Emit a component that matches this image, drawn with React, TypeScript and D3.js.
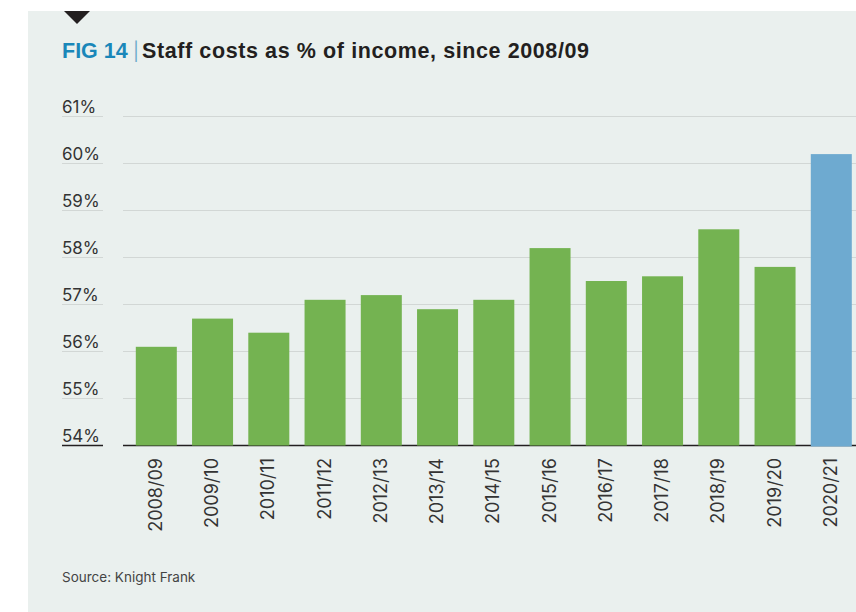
import React from "react";
import * as d3 from "d3";

const categories = ["2008/09","2009/10","2010/11","2011/12","2012/13","2013/14","2014/15","2015/16","2016/17","2017/18","2018/19","2019/20","2020/21"];
const values = [56.1, 56.7, 56.4, 57.1, 57.2, 56.9, 57.1, 58.2, 57.5, 57.6, 58.6, 57.8, 60.2];
const highlight = ["2020/21"];
const yTicks = [54, 55, 56, 57, 58, 59, 60, 61];

const W = 856, H = 612;
const FONT = "Inter, 'Liberation Sans', Arial, sans-serif";
const TITLE_FONT = "'Liberation Sans', Arial, sans-serif";

export default function App() {
  const x = d3.scaleBand<string>().domain(categories).range([123, 864.6]).paddingInner(0.271).paddingOuter(0.2276);
  const y = d3.scaleLinear().domain([54, 61]).range([445.5, 116.5]);
  return (
    <svg width={W} height={H} style={{ position: "absolute", left: 0, top: 0, display: "block" }} fontFamily={FONT}>
      <rect x={0} y={0} width={W} height={H} fill="#ffffff" />
      <rect x={28} y={11} width={W - 28} height={H - 11} fill="#eaf0ee" />
      <path d="M64,11 L90,11 L77,24 Z" fill="#231f20" />
      <text x={62} y={57.5} fontSize={21.5} fontWeight={700} fontFamily={TITLE_FONT}>
        <tspan fill="#1a87b9">FIG 14</tspan>
        <tspan fill="#6aa9c9" fontWeight={400} x={133} fontFamily={FONT} fontSize={18}>|</tspan>
        <tspan fill="#231f20" x={142} letterSpacing={0.6}>Staff costs as % of income, since 2008/09</tspan>
      </text>
      {yTicks.map((t) => (
        <g key={t}>
          <line x1={123} x2={W} y1={y(t)} y2={y(t)} stroke={t === 54 ? "#231f20" : "#d2d7d5"} strokeWidth={t === 54 ? 1.5 : 1.2} />
          <line x1={62} x2={103} y1={y(t)} y2={y(t)} stroke={t === 54 ? "#231f20" : "#d2d7d5"} strokeWidth={t === 54 ? 1.5 : 1.2} />
          <text x={62} y={y(t) - 4} fontSize={17} fill="#333333">{t}%</text>
        </g>
      ))}
      {categories.map((c, i) => (
        <rect key={c} x={x(c)} y={y(values[i])} width={x.bandwidth()} height={y(54) - y(values[i]) + (highlight.includes(c) ? 1 : 0)}
          fill={highlight.includes(c) ? "#6eaad0" : "#74b351"} />
      ))}
      {categories.map((c) => (
        <text key={c} transform={`translate(${(x(c) as number) + x.bandwidth() / 2 - 1},458) rotate(-90)`} textAnchor="end" dy="0.36em" fontSize={18} fill="#333333">{c}</text>
      ))}
      <text x={62} y={582} fontSize={13.5} fill="#444444">Source: Knight Frank</text>
    </svg>
  );
}
